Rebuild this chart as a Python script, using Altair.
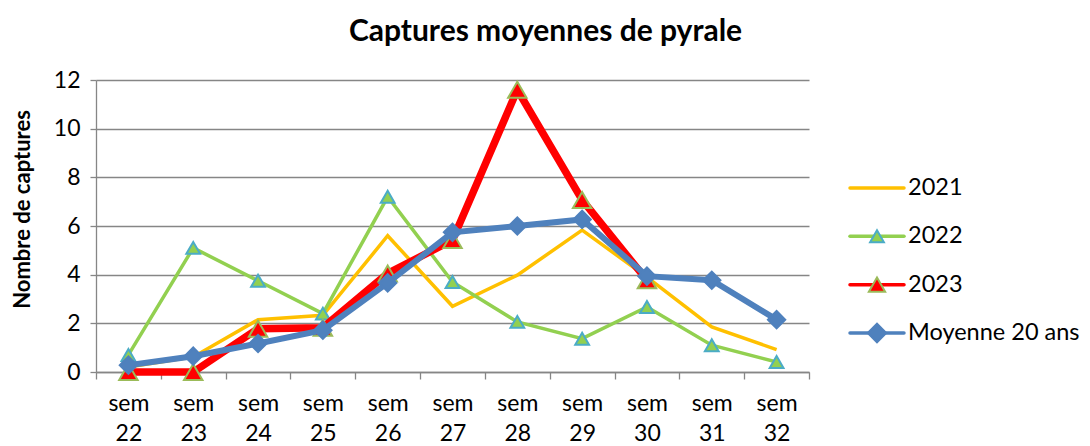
import altair as alt
import pandas as pd

weeks = ["22", "23", "24", "25", "26", "27", "28", "29", "30", "31", "32"]
v2021 = [0.2, 0.62, 2.15, 2.33, 5.6, 2.7, 3.98, 5.83, 3.9, 1.85, 0.92]
v2022 = [0.7, 5.1, 3.75, 2.4, 7.2, 3.7, 2.06, 1.37, 2.67, 1.1, 0.41]
v2023 = [0.0, 0.0, 1.78, 1.82, 4.05, 5.42, 11.6, 7.07, 3.77, None, None]
moy20 = [0.28, 0.65, 1.17, 1.72, 3.66, 5.74, 6.0, 6.27, 3.94, 3.77, 2.15]

series_names = ["2021", "2022", "2023", "Moyenne 20 ans"]
line_colors = ["#FFC000", "#92D050", "#FF0000", "#4F81BD"]
line_widths = [3.5, 3.5, 7.5, 6]
marker_shapes = [None, "triangle-up", "triangle-up", "diamond"]
marker_fills = [None, "#92D050", "#FF0000", "#4F81BD"]
marker_strokes = [None, "#4BACC6", "#9BBB59", "#4F81BD"]
marker_sizes = [None, 190, 340, 300]

FONT = "Lato"
GRID = "#868686"

rows = []
for name, vals in zip(series_names, [v2021, v2022, v2023, moy20]):
    for w, v in zip(weeks, vals):
        if v is not None:
            rows.append({"semaine": "sem " + w, "series": name, "value": v})
df = pd.DataFrame(rows)
week_order = ["sem " + w for w in weeks]

x_enc = alt.X(
    "semaine:N",
    sort=week_order,
    scale=alt.Scale(type="band", paddingInner=0, paddingOuter=0),
    axis=alt.Axis(
        title=None,
        tickBand="extent",
        labelExpr="split(datum.label, ' ')",
        labelAngle=0,
        labelFont=FONT,
        labelFontSize=23,
        labelLineHeight=30,
        labelPadding=13,
        labelColor="#000000",
        tickSize=7,
        tickColor=GRID,
        domainColor=GRID,
        domainWidth=1.3,
        tickWidth=1.3,
        grid=False,
    ),
)
y_enc = alt.Y(
    "value:Q",
    scale=alt.Scale(domain=[0, 12], nice=False, zero=True),
    axis=alt.Axis(
        values=[0, 2, 4, 6, 8, 10, 12],
        title="Nombre de captures",
        titleFont=FONT,
        titleFontSize=22,
        titleFontWeight="bold",
        titleColor="#000000",
        titleAngle=270,
        titleAlign="center",
        titleBaseline="middle",
        titleX=-74,
        titleY=129,
        labelFont=FONT,
        labelFontSize=23,
        labelColor="#000000",
        labelPadding=10,
        tickSize=6,
        tickColor=GRID,
        tickWidth=1.3,
        domainColor=GRID,
        domainWidth=1.3,
        grid=True,
        gridColor=GRID,
        gridWidth=1.3,
    ),
)

layers = []
for i, name in enumerate(series_names):
    base = alt.Chart(df).transform_filter(alt.datum.series == name)
    layers.append(
        base.mark_line(color=line_colors[i], strokeWidth=line_widths[i]).encode(x=x_enc, y=y_enc)
    )
    if marker_shapes[i]:
        layers.append(
            base.mark_point(
                shape=marker_shapes[i], filled=True, fill=marker_fills[i],
                stroke=marker_strokes[i], strokeWidth=2, size=marker_sizes[i], opacity=1,
            ).encode(x=x_enc, y=y_enc)
        )
main = alt.layer(*layers)

# legend built from the series names
leg_df = pd.DataFrame({"series": series_names})
leg_y = alt.Y("series:N", sort=series_names,
              scale=alt.Scale(type="point", domain=series_names, range=[108, 253], padding=0),
              axis=None)
leg_base = alt.Chart(leg_df)
leg_rule = leg_base.mark_rule(strokeCap="round").encode(
    y=leg_y,
    x=alt.value(754), x2=alt.value(808),
    color=alt.Color("series:N", scale=alt.Scale(domain=series_names, range=line_colors), legend=None),
    strokeWidth=alt.StrokeWidth("series:N", scale=alt.Scale(domain=series_names, range=line_widths), legend=None),
)
mk = [n for n, s in zip(series_names, marker_shapes) if s]
leg_pts = leg_base.transform_filter(alt.FieldOneOfPredicate(field="series", oneOf=mk)).mark_point(
    filled=True, strokeWidth=2, opacity=1
).encode(
    y=leg_y,
    x=alt.value(781),
    shape=alt.Shape("series:N", scale=alt.Scale(domain=mk, range=[s for s in marker_shapes if s]), legend=None),
    fill=alt.Fill("series:N", scale=alt.Scale(domain=mk, range=[c for c in marker_fills if c]), legend=None),
    stroke=alt.Stroke("series:N", scale=alt.Scale(domain=mk, range=[c for c in marker_strokes if c]), legend=None),
    size=alt.Size("series:N", scale=alt.Scale(domain=mk, range=[s for s in marker_sizes if s]), legend=None),
)
leg_text = leg_base.mark_text(align="left", baseline="middle", font=FONT, fontSize=23.5, color="#000000").encode(
    y=leg_y, x=alt.value(812), text="series:N"
)
legend = alt.layer(leg_rule, leg_pts, leg_text)

chart = alt.layer(main, legend).resolve_scale(
    y="independent", color="independent", shape="independent", size="independent",
    fill="independent", stroke="independent", strokeWidth="independent",
).properties(
    width=713,
    height=292,
    title=alt.TitleParams(
        "Captures moyennes de pyrale", font=FONT, fontSize=30, fontWeight="bold",
        color="#000000", anchor="middle", dx=93, offset=22,
    ),
    autosize=alt.AutoSizeParams(type="none"),
    padding={"left": 88, "top": 72, "right": 273, "bottom": 78},
).configure_view(stroke=None)

chart.save("out.html", embed_options={"renderer": "svg", "actions": False})
